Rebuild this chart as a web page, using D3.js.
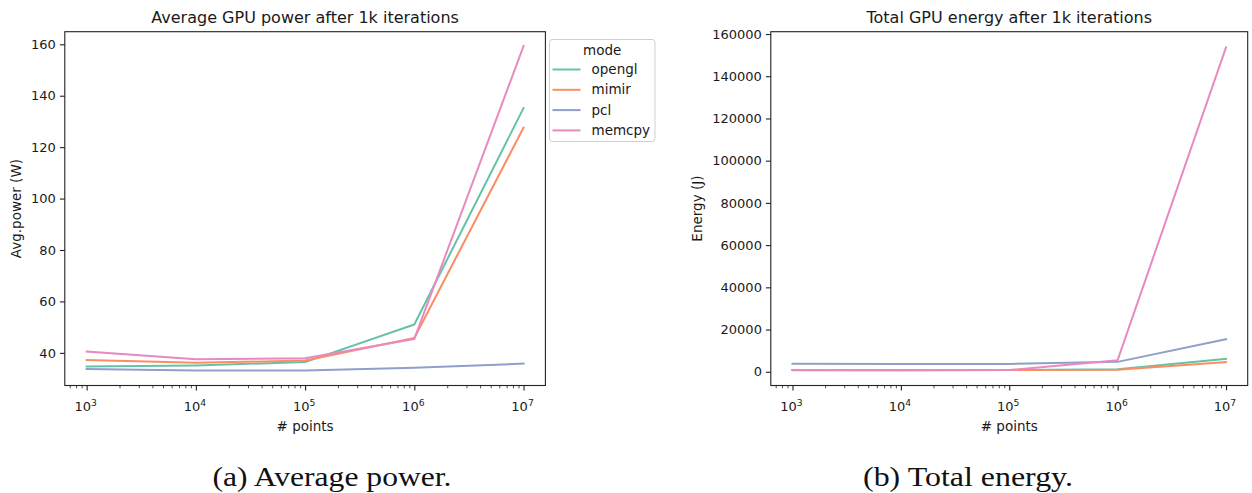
<!DOCTYPE html>
<html>
<head>
<meta charset="utf-8">
<script src="https://cdn.jsdelivr.net/npm/d3@7"></script>
<style>
  html, body { margin: 0; padding: 0; background: #fff; }
  svg { display: block; }
  text { font-family: "DejaVu Sans", sans-serif; fill: #1a1a1a; }
  .caption { font-family: "Liberation Serif", "DejaVu Serif", serif; }
</style>
</head>
<body>
<svg id="chart" width="1252" height="493"></svg>
<script>
// ---- data ----
const points = [1e3, 1e4, 1e5, 1e6, 1e7];
const modes = ["opengl", "mimir", "pcl", "memcpy"];
const modeColors = ["#66c2a5", "#fc8d62", "#8da0cb", "#e78ac3"];

const powerOpengl = [34.7, 35.1, 36.4, 51.0, 135.2];
const powerMimir  = [37.2, 36.1, 37.0, 45.8, 127.6];
const powerPcl    = [33.7, 33.1, 33.1, 34.2, 35.8];
const powerMemcpy = [40.5, 37.5, 37.9, 45.4, 159.3];

const energyOpengl = [750, 750, 800, 1250, 6100];
const energyMimir  = [800, 800, 850, 1000, 4600];
const energyPcl    = [3750, 3700, 3700, 4700, 15400];
const energyMemcpy = [800, 750, 800, 5500, 153700];

const powerTicks = [40, 60, 80, 100, 120, 140, 160];
const energyTicks = [0, 20000, 40000, 60000, 80000, 100000, 120000, 140000, 160000];
const xTickExps = [3, 4, 5, 6, 7];

const svg = d3.select("#chart");
const TICK_FS = 13;
const LABEL_FS = 13.5;
const TITLE_FS = 16;

function drawPanel(cfg) {
  const x = d3.scaleLog().domain([Math.pow(10, 2.8), Math.pow(10, 7.2)]).range([cfg.left, cfg.right]);
  const y = d3.scaleLinear().domain(cfg.yDomain).range([cfg.bottom, cfg.top]);
  const g = svg.append("g");

  // lines
  const line = d3.line().x((d, i) => x(points[i])).y(d => y(d));
  cfg.series.forEach((s, k) => {
    g.append("path").datum(s)
      .attr("d", line)
      .attr("fill", "none")
      .attr("stroke", modeColors[k])
      .attr("stroke-width", 2)
      .attr("stroke-linejoin", "round")
      .attr("stroke-linecap", "square");
  });

  // y axis
  const yAxis = d3.axisLeft(y).tickValues(cfg.yTicks).tickSize(4.9).tickPadding(4).tickFormat(d3.format("d"));
  const ya = g.append("g").attr("transform", `translate(${cfg.left},0)`).call(yAxis);
  ya.select(".domain").remove();
  ya.selectAll("line").attr("stroke", "#222").attr("stroke-width", 1.1);
  ya.selectAll("text").attr("font-size", TICK_FS).attr("fill", "#1a1a1a").style("font-family", "DejaVu Sans");

  // x axis: major + minor
  const minor = [];
  for (let e = 2; e <= 7; e++) for (let m = 2; m <= 9; m++) {
    const v = m * Math.pow(10, e);
    if (v >= x.domain()[0] && v <= x.domain()[1]) minor.push(v);
  }
  const xMinor = d3.axisBottom(x).tickValues(minor).tickSize(2.8).tickFormat("");
  const xm = g.append("g").attr("transform", `translate(0,${cfg.bottom})`).call(xMinor);
  xm.select(".domain").remove();
  xm.selectAll("line").attr("stroke", "#222").attr("stroke-width", 0.8);

  const xMajor = d3.axisBottom(x).tickValues(xTickExps.map(e => Math.pow(10, e))).tickSize(4.9).tickFormat("");
  const xa = g.append("g").attr("transform", `translate(0,${cfg.bottom})`).call(xMajor);
  xa.select(".domain").remove();
  xa.selectAll("line").attr("stroke", "#222").attr("stroke-width", 1.1);
  xTickExps.forEach(e => {
    const t = g.append("text")
      .attr("x", x(Math.pow(10, e)) - 1)
      .attr("y", cfg.bottom + 25.5)
      .attr("text-anchor", "middle")
      .attr("font-size", TICK_FS);
    t.append("tspan").text("10");
    t.append("tspan").attr("dy", -5.5).attr("font-size", 9.2).text(String(e));
  });

  // frame
  g.append("rect")
    .attr("x", cfg.left).attr("y", cfg.top)
    .attr("width", cfg.right - cfg.left).attr("height", cfg.bottom - cfg.top)
    .attr("fill", "none").attr("stroke", "#222").attr("stroke-width", 1.1);

  // titles and labels
  g.append("text").attr("x", (cfg.left + cfg.right) / 2).attr("y", 23)
    .attr("text-anchor", "middle").attr("font-size", TITLE_FS).text(cfg.title);
  g.append("text").attr("x", (cfg.left + cfg.right) / 2).attr("y", cfg.bottom + 45.5)
    .attr("text-anchor", "middle").attr("font-size", LABEL_FS).text("# points");
  g.append("text")
    .attr("transform", `translate(${cfg.yLabelX},${(cfg.top + cfg.bottom) / 2}) rotate(-90)`)
    .attr("text-anchor", "middle").attr("font-size", LABEL_FS).text(cfg.yLabel);

  // caption
  g.append("text").attr("class", "caption")
    .attr("x", cfg.capX).attr("y", 486)
    .attr("text-anchor", "middle").attr("font-size", 28)
    .attr("textLength", cfg.capLen).attr("lengthAdjust", "spacingAndGlyphs")
    .style("fill", "#111")
    .text(cfg.caption);
  return g;
}

drawPanel({
  left: 64.8, right: 545.4, top: 31.7, bottom: 385.5,
  yDomain: [27.3, 164.9], yTicks: powerTicks,
  series: [powerOpengl, powerMimir, powerPcl, powerMemcpy],
  title: "Average GPU power after 1k iterations",
  yLabel: "Avg.power (W)", yLabelX: 21,
  caption: "(a) Average power.", capX: 332, capLen: 239
});

drawPanel({
  left: 770.8, right: 1247.7, top: 31.7, bottom: 385.5,
  yDomain: [-6500, 161100], yTicks: energyTicks,
  series: [energyOpengl, energyMimir, energyPcl, energyMemcpy],
  title: "Total GPU energy after 1k iterations",
  yLabel: "Energy (J)", yLabelX: 702,
  caption: "(b) Total energy.", capX: 968, capLen: 210
});

// legend
const lg = svg.append("g").attr("transform", "translate(549.5,39.5)");
lg.append("rect").attr("width", 105.5).attr("height", 102).attr("rx", 3)
  .attr("fill", "#fff").attr("fill-opacity", 0.8).attr("stroke", "#d0d0d0").attr("stroke-width", 1);
lg.append("text").attr("x", 52.75).attr("y", 15).attr("text-anchor", "middle").attr("font-size", LABEL_FS).text("mode");
modes.forEach((m, i) => {
  const yy = 30 + i * 20.3;
  lg.append("line").attr("x1", 3).attr("x2", 31).attr("y1", yy).attr("y2", yy)
    .attr("stroke", modeColors[i]).attr("stroke-width", 2);
  lg.append("text").attr("x", 42).attr("y", yy + 4.6).attr("font-size", LABEL_FS).text(m);
});
</script>
</body>
</html>
